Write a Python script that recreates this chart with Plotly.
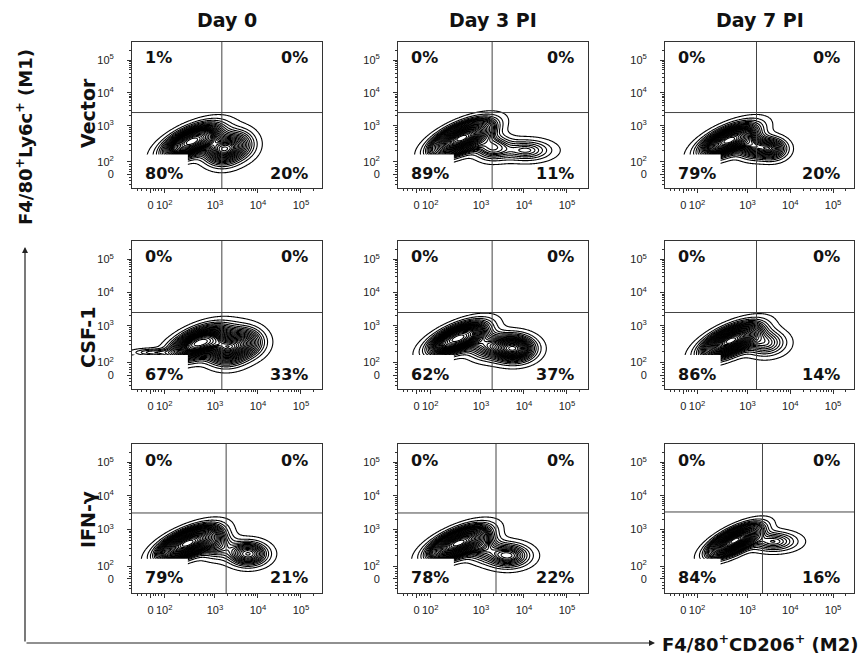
import numpy as np
import plotly.graph_objects as go

# ---- labels -------------------------------------------------------------
col_titles = ["Day 0", "Day 3 PI", "Day 7 PI"]
row_titles = ["Vector", "CSF-1", "IFN-γ"]
y_title = "F4/80<sup>+</sup>Ly6c<sup>+</sup> (M1)"
x_title = "F4/80<sup>+</sup>CD206<sup>+</sup> (M2)"

# ---- quadrant percentages [row][col] ------------------------------------
pct_ul = [[1, 0, 0], [0, 0, 0], [0, 0, 0]]
pct_ur = [[0, 0, 0], [0, 0, 0], [0, 0, 0]]
pct_ll = [[80, 89, 79], [67, 62, 86], [79, 78, 84]]
pct_lr = [[20, 11, 20], [33, 37, 14], [21, 22, 16]]

# ---- quadrant gates on the logicle display scale [row][col] -------------
gate_x = [[3.16, 3.26, 3.21], [3.16, 3.26, 3.21], [3.26, 3.35, 3.35]]
gate_y = [[3.40, 3.40, 3.40], [3.40, 3.40, 3.40], [3.49, 3.49, 3.52]]

# ---- logicle-style axis ticks ---------------------------------------------
tick_text = ["0", "10<sup>2</sup>", "10<sup>3</sup>", "10<sup>4</sup>", "10<sup>5</sup>"]
x_tick_pos = [1.50, 1.82, 3.0, 4.0, 5.0]
y_tick_pos = [1.52, 1.90, 3.0, 4.0, 5.0]
x_range = [1.07, 5.49]
y_range = [1.10, 5.55]

# ---- cell populations per panel: (x, y, sd_x, sd_y, corr, fraction) -----
populations = [
    [  # Vector
        [(2.45, 2.52, 0.38, 0.30, 0.60, 0.62), (3.15, 2.25, 0.27, 0.28, 0.0, 0.25),
         (3.55, 2.45, 0.25, 0.28, 0.0, 0.13)],
        [(2.55, 2.62, 0.38, 0.29, 0.62, 0.80), (3.25, 2.35, 0.26, 0.24, 0.0, 0.10),
         (4.05, 2.25, 0.38, 0.20, 0.0, 0.10)],
        [(2.55, 2.55, 0.38, 0.29, 0.62, 0.70), (3.10, 2.38, 0.22, 0.22, 0.0, 0.15),
         (3.55, 2.30, 0.22, 0.20, 0.0, 0.15)],
    ],
    [  # CSF-1
        [(2.60, 2.48, 0.38, 0.30, 0.55, 0.50), (3.25, 2.30, 0.30, 0.29, 0.0, 0.30),
         (3.70, 2.52, 0.28, 0.28, 0.0, 0.18), (1.55, 2.20, 0.30, 0.07, 0.0, 0.02)],
        [(2.45, 2.62, 0.38, 0.28, 0.62, 0.55), (3.10, 2.42, 0.28, 0.26, 0.0, 0.13),
         (3.75, 2.32, 0.30, 0.24, 0.0, 0.32)],
        [(2.60, 2.55, 0.38, 0.29, 0.62, 0.84), (3.40, 2.50, 0.30, 0.24, 0.0, 0.16)],
    ],
    [  # IFN-gamma
        [(2.35, 2.58, 0.38, 0.28, 0.62, 0.70), (3.00, 2.58, 0.25, 0.26, 0.0, 0.12),
         (3.77, 2.27, 0.28, 0.22, 0.0, 0.18)],
        [(2.45, 2.58, 0.38, 0.28, 0.62, 0.70), (3.00, 2.53, 0.25, 0.26, 0.0, 0.12),
         (3.62, 2.22, 0.32, 0.22, 0.0, 0.18)],
        [(2.70, 2.66, 0.33, 0.26, 0.68, 0.85), (3.60, 2.64, 0.35, 0.18, 0.0, 0.15)],
    ],
]

# ---- panel placement (pixels in an 860 x 657 canvas) ----------------------
W, H = 860, 657
col_px = [(132, 322), (398, 588), (665, 854)]
row_px = [(42, 188), (241, 389), (444, 593)]

TICK_FONT = "Liberation Sans, Arial, sans-serif"
BOLD_FONT = "DejaVu Sans, Verdana, sans-serif"

gx = np.linspace(x_range[0], x_range[1], 260)
gy = np.linspace(y_range[0], y_range[1], 260)
GX, GY = np.meshgrid(gx, gy)


def enclosed_mass(pops):
    """Gaussian-mixture density mapped to 1 - (fraction of events enclosed),
    so equally spaced contours are equal-probability contours."""
    z = np.zeros_like(GX)
    for (mx, my, sx, sy, r, frac) in pops:
        dx = (GX - mx) / sx
        dy = (GY - my) / sy
        q = (dx * dx - 2 * r * dx * dy + dy * dy) / (1 - r * r)
        z += frac * np.exp(-0.5 * q) / (sx * sy * np.sqrt(1 - r * r))
    flat = z.ravel()
    order = np.argsort(flat)[::-1]
    cum = np.cumsum(flat[order])
    cum /= cum[-1]
    m = np.empty_like(flat)
    m[order] = cum
    return 1.0 - m.reshape(z.shape)


def minor_ticks(zero_pos, hundred_pos):
    vals = [zero_pos - 0.3, zero_pos - 0.2, zero_pos - 0.1]
    vals += list(np.linspace(zero_pos, hundred_pos, 6)[1:-1])
    span = 3.0 - hundred_pos
    vals += [hundred_pos + np.log10(k) * span for k in range(2, 10)]
    for n in (3, 4):
        vals += [n + np.log10(k) for k in range(2, 10)]
    vals += [5 + np.log10(2)]
    return vals


fig = go.Figure()
layout = dict(
    width=W, height=H, margin=dict(l=0, r=0, t=0, b=0),
    paper_bgcolor="white", plot_bgcolor="white", showlegend=False,
    font=dict(family=TICK_FONT, color="#111"),
)
shapes = []
annotations = []

for r in range(3):
    for c in range(3):
        idx = r * 3 + c + 1
        xa = "x" if idx == 1 else f"x{idx}"
        ya = "y" if idx == 1 else f"y{idx}"
        x0p, x1p = col_px[c]
        y0p, y1p = row_px[r]
        axis_common = dict(
            showline=True, mirror=True, linecolor="#333", linewidth=1,
            ticks="outside", ticklen=4, tickwidth=1, tickcolor="#333",
            showgrid=False, zeroline=False, tickmode="array",
            ticktext=tick_text, tickfont=dict(size=11, color="#222", family=TICK_FONT),
        )
        layout["xaxis" if idx == 1 else f"xaxis{idx}"] = dict(
            axis_common, domain=[x0p / W, x1p / W], range=x_range,
            tickvals=x_tick_pos, anchor=ya, ticklabelstandoff=3,
            minor=dict(tickvals=minor_ticks(x_tick_pos[0], x_tick_pos[1]),
                       ticklen=2, tickcolor="#333", ticks="outside"),
        )
        layout["yaxis" if idx == 1 else f"yaxis{idx}"] = dict(
            axis_common, domain=[1 - y1p / H, 1 - y0p / H], range=y_range,
            tickvals=y_tick_pos, anchor=xa, ticklabelstandoff=11,
            minor=dict(tickvals=minor_ticks(y_tick_pos[0], y_tick_pos[1]),
                       ticklen=2, tickcolor="#333", ticks="outside"),
        )

        z = enclosed_mass(populations[r][c])
        fig.add_trace(go.Contour(
            x=gx, y=gy, z=z, xaxis=xa, yaxis=ya,
            contours=dict(coloring="lines", start=0.02, end=0.98, size=0.035),
            colorscale=[[0, "black"], [1, "black"]], showscale=False,
            line=dict(width=1.1, smoothing=1), hoverinfo="skip",
        ))

        # white backing behind the lower-left percentage
        shapes.append(dict(type="rect", xref=xa, yref=ya, layer="above",
                           x0=x_range[0] + 0.03, x1=2.37,
                           y0=y_range[0] + 0.04, y1=2.12,
                           fillcolor="white", line=dict(width=0)))
        # quadrant gates
        shapes.append(dict(type="line", xref=xa, yref=ya, layer="above",
                           x0=x_range[0], x1=x_range[1],
                           y0=gate_y[r][c], y1=gate_y[r][c],
                           line=dict(color="#444", width=1)))
        shapes.append(dict(type="line", xref=xa, yref=ya, layer="above",
                           x0=gate_x[r][c], x1=gate_x[r][c],
                           y0=y_range[0], y1=y_range[1],
                           line=dict(color="#444", width=1)))

        pfont = dict(size=16, color="#111", family=BOLD_FONT, weight="bold")
        for txt, xx, yy, anc in [
            (pct_ul[r][c], 1.33, 5.07, "left"),
            (pct_ur[r][c], 5.21, 5.07, "right"),
            (pct_ll[r][c], 1.33, 1.55, "left"),
            (pct_lr[r][c], 5.21, 1.55, "right"),
        ]:
            annotations.append(dict(text=f"{txt}%", x=xx, y=yy, xref=xa, yref=ya,
                                    xanchor=anc, yanchor="middle",
                                    showarrow=False, font=pfont))

# column and row titles
tfont = dict(size=19, color="#111", family=BOLD_FONT, weight="bold")
afont = dict(size=18, color="#111", family=BOLD_FONT, weight="bold")
for c, t in enumerate(col_titles):
    annotations.append(dict(text=t, x=(col_px[c][0] + col_px[c][1]) / 2 / W,
                            y=1 - 20 / H, xref="paper", yref="paper",
                            xanchor="center", yanchor="middle",
                            showarrow=False, font=tfont))
row_label_y = [113, 338, 520]
for r, t in enumerate(row_titles):
    annotations.append(dict(text=t, x=88 / W, y=1 - row_label_y[r] / H,
                            xref="paper", yref="paper", textangle=-90,
                            xanchor="center", yanchor="middle",
                            showarrow=False, font=tfont))

# axis titles with arrows
annotations.append(dict(text=y_title, x=24 / W, y=1 - 137 / H, xref="paper", yref="paper",
                        textangle=-90, xanchor="center", yanchor="middle",
                        showarrow=False, font=afont))
annotations.append(dict(text=x_title, x=660 / W, y=1 - 643 / H, xref="paper", yref="paper",
                        xanchor="left", yanchor="middle",
                        showarrow=False, font=afont))
annotations.append(dict(text="", x=25 / W, y=1 - 247 / H, xref="paper", yref="paper",
                        showarrow=True, ax=0, ay=643 - 247, arrowhead=2, arrowsize=1,
                        arrowwidth=1.2, arrowcolor="#222", standoff=0))
annotations.append(dict(text="", x=655 / W, y=1 - 643 / H, xref="paper", yref="paper",
                        showarrow=True, ax=-(655 - 25), ay=0, arrowhead=2, arrowsize=1,
                        arrowwidth=1.2, arrowcolor="#222", standoff=0))

layout["shapes"] = shapes
layout["annotations"] = annotations
fig.update_layout(**layout)
fig.write_html("out.html")
